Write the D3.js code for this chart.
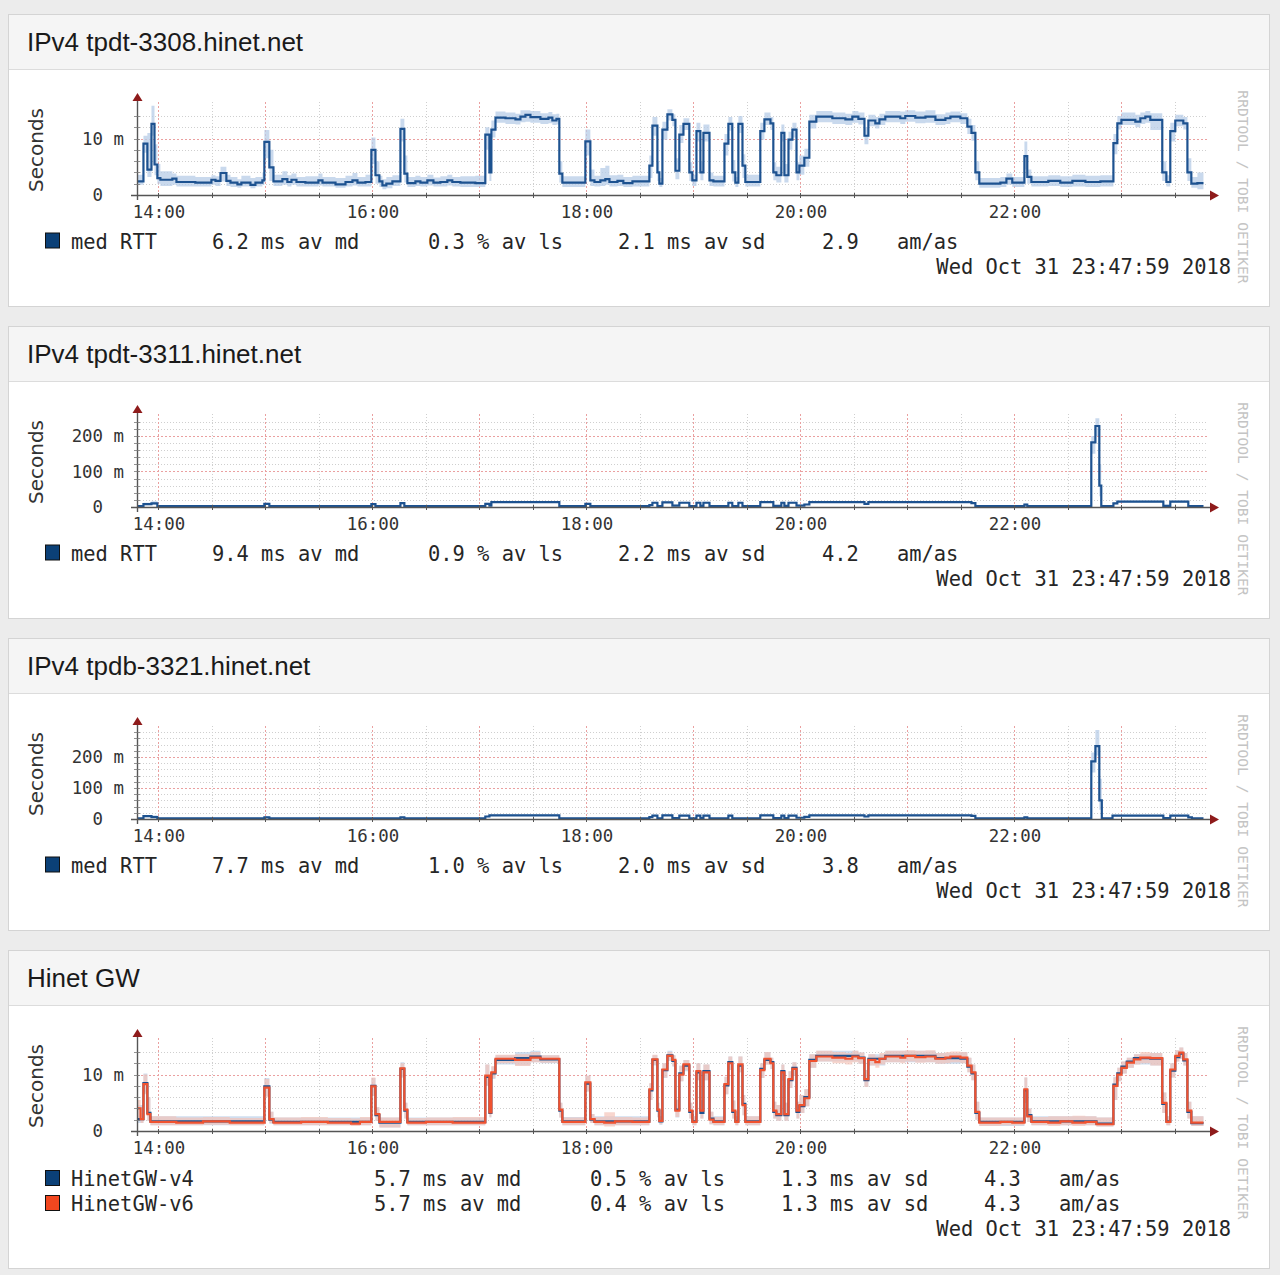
<!DOCTYPE html>
<html>
<head>
<meta charset="utf-8">
<script src="https://cdn.jsdelivr.net/npm/d3@7"></script>
<style>
  html, body { margin: 0; padding: 0; background: #ececec; }
  svg { display: block; }
</style>
</head>
<body>
<div id="chart"></div>
<script>
// each row: [minutes after 14:00, median ms, smoke low ms, smoke high ms]
const tpdt3308 = [
  [-12, 2.4, 1.8, 3.6], [-8.4, 9.1, 7.5, 10.5], [-6.2, 4.5, 3.2, 11.0], [-3.9, 12.6, 10.5, 15.8],
  [-2.2, 5.4, 3.5, 9.0], [-0.6, 3.0, 2.0, 5.5], [1.1, 2.7, 1.6, 4.2], [7.8, 2.9, 1.8, 3.8],
  [10.1, 2.3, 1.5, 3.4], [20.7, 2.2, 1.5, 3.2], [29.7, 2.7, 1.8, 3.5], [32.0, 2.5, 1.6, 3.3],
  [34.8, 3.9, 2.4, 5.0], [38.1, 2.5, 1.6, 3.6], [40.4, 2.2, 1.4, 3.2], [44.3, 1.9, 1.3, 2.8],
  [46.5, 2.2, 1.5, 3.4], [51.6, 1.8, 1.2, 3.0], [54.4, 2.2, 1.5, 3.2], [58.3, 2.6, 1.8, 4.0],
  [59.4, 9.4, 6.5, 11.5], [62.2, 4.9, 2.5, 8.0], [64.5, 2.4, 1.6, 3.6], [69.5, 2.8, 1.8, 4.2],
  [72.3, 2.3, 1.5, 3.5], [74.6, 2.7, 1.8, 3.8], [77.4, 2.3, 1.5, 3.2], [82.4, 2.2, 1.5, 3.3],
  [89.7, 2.6, 1.7, 3.8], [92.0, 2.2, 1.5, 3.2], [99.3, 1.9, 1.3, 3.0], [104.9, 2.3, 1.5, 3.4],
  [108.8, 2.6, 1.7, 3.9], [111.6, 2.2, 1.5, 3.2], [116.1, 2.3, 1.5, 3.6], [119.4, 8.0, 5.5, 10.2],
  [121.7, 3.5, 2.0, 6.0], [123.9, 2.4, 1.4, 3.4], [125.6, 1.7, 1.0, 2.8], [127.8, 2.0, 1.2, 3.2],
  [131.2, 2.4, 1.6, 3.5], [135.7, 11.7, 9.5, 13.5], [137.9, 3.8, 2.2, 7.0], [139.6, 2.1, 1.4, 3.2],
  [144.1, 2.4, 1.6, 3.4], [146.9, 2.2, 1.5, 3.2], [150.8, 2.6, 1.7, 3.6], [154.2, 2.2, 1.5, 3.1],
  [158.1, 2.3, 1.5, 3.3], [162.0, 2.6, 1.7, 3.6], [164.8, 2.3, 1.5, 3.2], [169.3, 2.2, 1.4, 3.3],
  [177.7, 2.1, 1.4, 3.4], [183.3, 10.7, 8.0, 12.0], [185.6, 4.0, 2.5, 6.5], [186.7, 11.6, 10.2, 13.2],
  [189.0, 13.7, 12.8, 14.8], [194.6, 13.6, 12.6, 14.6], [200.2, 13.4, 12.5, 14.4], [203.0, 13.9, 12.9, 15.0],
  [205.8, 14.2, 13.0, 15.0], [208.6, 13.8, 12.8, 14.9], [214.2, 13.5, 12.6, 14.5], [218.7, 13.7, 12.7, 14.7],
  [220.9, 13.2, 12.4, 14.3], [223.2, 13.5, 12.5, 14.4], [224.8, 3.8, 2.2, 6.0], [226.5, 2.2, 1.4, 3.3],
  [239.4, 9.5, 7.0, 11.6], [242.2, 2.6, 1.6, 4.5], [244.5, 2.3, 1.5, 3.4], [247.8, 2.6, 1.6, 4.8],
  [250.6, 2.8, 1.8, 5.2], [252.9, 2.3, 1.5, 3.5], [257.4, 2.5, 1.6, 3.6], [260.7, 2.1, 1.4, 3.2],
  [265.8, 2.4, 1.5, 3.4], [275.3, 5.2, 3.0, 7.0], [277.0, 12.3, 10.5, 13.8], [279.8, 4.0, 2.5, 6.0],
  [280.9, 2.0, 1.4, 3.0], [282.6, 11.6, 9.8, 13.0], [285.4, 14.3, 13.2, 15.2], [288.2, 13.3, 12.2, 14.3],
  [289.9, 4.3, 2.8, 6.5], [292.1, 10.7, 9.2, 12.4], [294.4, 12.6, 11.5, 13.6], [297.7, 4.0, 2.5, 5.8],
  [299.4, 2.6, 1.6, 3.6], [301.7, 11.3, 9.5, 12.8], [303.9, 4.0, 2.6, 6.0], [305.6, 11.0, 9.5, 12.5],
  [309.0, 2.6, 1.6, 4.0], [311.2, 2.4, 1.5, 3.4], [317.4, 9.1, 7.0, 10.8], [319.6, 12.6, 11.4, 13.8],
  [321.8, 4.0, 2.4, 6.2], [323.5, 2.2, 1.4, 3.2], [325.2, 12.6, 11.0, 14.0], [327.5, 5.2, 3.0, 7.2],
  [329.1, 2.3, 1.5, 3.6], [337.5, 11.3, 9.8, 12.8], [339.8, 13.4, 12.4, 14.6], [343.2, 12.7, 11.5, 13.8],
  [344.8, 4.0, 2.6, 5.8], [346.5, 3.5, 2.2, 5.0], [349.3, 11.0, 9.5, 12.5], [351.0, 3.5, 2.2, 5.5],
  [353.3, 9.8, 8.0, 11.2], [355.5, 11.6, 10.2, 12.8], [357.8, 4.0, 2.6, 5.8], [359.4, 5.2, 3.6, 7.0],
  [362.2, 6.6, 5.0, 8.2], [365.0, 13.0, 11.8, 14.2], [368.9, 13.9, 12.9, 14.9], [377.9, 13.6, 12.6, 14.6],
  [385.2, 13.4, 12.4, 14.4], [389.1, 13.9, 12.8, 14.9], [392.5, 13.5, 12.5, 14.6], [395.9, 10.5, 9.0, 12.0],
  [398.1, 13.2, 12.2, 14.2], [402.0, 12.7, 11.8, 13.8], [404.3, 13.4, 12.4, 14.4], [407.6, 13.9, 12.9, 14.9],
  [416.0, 13.6, 12.6, 14.8], [418.8, 14.0, 13.0, 15.0], [424.4, 13.7, 12.7, 14.8], [430.1, 13.9, 12.8, 15.0],
  [435.7, 13.3, 12.4, 14.3], [441.3, 13.6, 12.6, 14.6], [444.1, 13.9, 12.9, 14.8], [449.7, 13.6, 12.6, 14.5],
  [453.6, 12.1, 10.8, 13.5], [455.9, 11.0, 9.6, 12.4], [458.1, 4.0, 2.6, 6.0], [460.3, 2.0, 1.3, 3.0],
  [472.1, 2.2, 1.4, 3.2], [475.5, 2.9, 1.8, 3.8], [478.8, 2.2, 1.4, 3.2], [485.6, 6.9, 4.5, 9.5],
  [487.2, 3.2, 2.0, 4.5], [489.5, 2.3, 1.5, 3.3], [499.0, 2.5, 1.6, 3.5], [505.7, 2.2, 1.4, 3.3],
  [512.5, 2.5, 1.5, 3.6], [519.8, 2.3, 1.4, 3.4], [528.2, 2.4, 1.5, 3.5], [535.5, 9.2, 7.2, 10.8],
  [537.7, 12.7, 11.6, 14.0], [540.0, 13.3, 12.4, 14.6], [547.8, 13.0, 12.0, 14.2], [550.6, 13.6, 12.6, 14.6],
  [553.4, 13.9, 12.8, 14.9], [556.2, 13.3, 11.5, 14.5], [562.9, 4.0, 2.5, 6.0], [565.2, 2.3, 1.5, 3.5],
  [567.4, 11.3, 9.5, 12.8], [570.2, 13.2, 12.2, 14.2], [574.7, 12.7, 11.6, 13.8], [577.0, 4.0, 2.5, 6.5],
  [579.2, 2.0, 1.3, 3.2], [582.6, 2.1, 1.0, 4.0], [586, 2.1, 1.0, 4.0]
];

const tpdt3311 = [
  [-12, 2.3, 1.5, 4], [-8.4, 8, 5, 12], [-3.9, 10, 6, 16], [-0.6, 2.5, 1.5, 5],
  [59.4, 9, 6, 12], [62.2, 2.4, 1.5, 4], [119.4, 8, 5, 11], [121.7, 2.3, 1.5, 4],
  [135.7, 11, 8, 14], [137.9, 2.3, 1.5, 4], [183.3, 9, 6, 12], [185.6, 4, 2, 7],
  [186.7, 14, 12, 17], [224.8, 2.5, 1.5, 5], [239.4, 9, 6, 12], [242.2, 2.4, 1.5, 4],
  [275.3, 5, 3, 8], [277.0, 12, 10, 15], [279.8, 2.4, 1.5, 4], [282.6, 13, 11, 16],
  [288.2, 4, 2, 7], [292.1, 12, 10, 15], [297.7, 2.5, 1.5, 4], [301.7, 12, 10, 15],
  [303.9, 3, 2, 5], [305.6, 12, 10, 15], [309.0, 2.4, 1.5, 4], [319.6, 12, 10, 15],
  [321.8, 2.4, 1.5, 4], [325.2, 12, 10, 15], [327.5, 2.4, 1.5, 4], [337.5, 14, 12, 16],
  [344.8, 3, 2, 5], [349.3, 12, 10, 15], [351.0, 3, 2, 5], [353.3, 12, 10, 15],
  [357.8, 4, 2.5, 7], [362.2, 7, 5, 10], [365.0, 14, 12, 16], [395.9, 9, 7, 12],
  [398.1, 14, 12, 16], [455.9, 11, 9, 13], [458.1, 2.3, 1.5, 4], [485.6, 7, 4, 10],
  [487.2, 2.3, 1.5, 4], [523.1, 182, 150, 200], [525.4, 228, 200, 250], [527.6, 60, 30, 120],
  [528.7, 2.3, 1.5, 5], [535.5, 10, 8, 13], [537.7, 15, 13, 18], [563.5, 3, 2, 6],
  [567.4, 15, 13, 18], [577.5, 2.5, 1.5, 5], [586, 2.5, 1.5, 5]
];

const tpdb3321 = [
  [-12, 2.2, 1.4, 4], [-8.4, 9, 6, 13], [-3.9, 6, 4, 12], [-0.6, 2.2, 1.4, 4],
  [59.4, 5, 3, 9], [62.2, 2.2, 1.4, 4], [135.7, 5, 3, 8], [137.9, 2.2, 1.4, 4],
  [183.3, 8, 5, 11], [185.6, 12, 10, 15], [224.8, 2.3, 1.5, 4], [275.3, 6, 3, 9],
  [277.0, 11, 9, 14], [279.8, 2.3, 1.5, 4], [282.6, 12, 10, 15], [288.2, 3, 2, 5],
  [292.1, 11, 9, 14], [297.7, 2.3, 1.5, 4], [301.7, 11, 9, 14], [303.9, 3, 2, 5],
  [305.6, 11, 9, 14], [309.0, 2.3, 1.5, 4], [319.6, 11, 9, 14], [321.8, 2.3, 1.5, 4],
  [337.5, 12, 10, 15], [344.8, 3, 2, 5], [349.3, 11, 9, 14], [351.0, 3, 2, 5],
  [353.3, 11, 9, 14], [357.8, 4, 2.5, 7], [362.2, 7, 5, 10], [365.0, 12, 10, 15],
  [395.9, 8, 6, 11], [398.1, 12, 10, 15], [455.9, 10, 8, 13], [458.1, 2.2, 1.4, 4],
  [485.6, 5, 3, 8], [487.2, 2.2, 1.4, 4], [523.1, 186, 150, 215], [525.4, 235, 205, 287],
  [527.6, 60, 30, 130], [529.0, 2.2, 1.4, 5], [535.0, 11, 9, 14], [563.5, 3, 2, 6],
  [567.4, 11, 9, 14], [577.5, 5, 3, 8], [579.5, 2.2, 1.4, 4], [586, 2.2, 1.4, 4]
];

const hinetV4 = [
  [-12, 2.1, 1.4, 4.6], [-8.4, 8.5, 6.8, 10.2], [-6.2, 3.2, 1.8, 6.0], [-4.5, 1.7, 1.0, 2.6],
  [59.4, 7.9, 6.2, 9.4], [62.2, 2.0, 1.3, 3.4], [64.5, 1.6, 1.0, 2.4], [119.4, 8.0, 6.2, 9.4],
  [121.7, 2.8, 1.8, 4.2], [123.9, 1.5, 0.6, 2.4], [135.7, 11.0, 9.5, 12.2], [137.9, 3.6, 2.2, 5.0],
  [139.6, 1.6, 1.0, 2.4], [183.3, 9.6, 8.0, 11.8], [185.6, 3.2, 2.4, 5.0], [186.7, 10.2, 9.2, 11.4],
  [189.0, 12.6, 11.8, 13.4], [200, 12.9, 11.6, 14.0], [208.6, 13.2, 12.2, 14.2], [214.2, 12.7, 12.0, 13.4],
  [224.8, 3.6, 2.4, 5.0], [226.5, 1.7, 1.0, 2.5], [239.4, 8.4, 7.0, 9.8], [242.2, 2.0, 1.4, 3.0],
  [244.5, 1.7, 1.0, 2.6], [275.3, 7.2, 5.5, 8.4], [277.0, 12.6, 11.6, 13.4], [279.8, 3.6, 2.4, 5.0],
  [280.9, 1.7, 1.1, 2.6], [282.6, 10.8, 9.4, 12.0], [285.4, 13.4, 12.4, 14.2], [288.2, 12.4, 11.4, 13.4],
  [289.9, 3.8, 2.4, 5.6], [292.1, 10.2, 8.8, 11.6], [294.4, 11.6, 10.6, 12.6], [297.7, 3.4, 2.2, 5.0],
  [299.4, 1.7, 1.0, 2.6], [301.7, 10.4, 9.0, 12.0], [303.9, 3.2, 2.2, 5.4], [305.6, 10.6, 9.0, 11.8],
  [309.0, 2.2, 1.2, 3.4], [311.2, 1.7, 1.0, 2.6], [317.4, 8.1, 6.5, 9.6], [319.6, 12.2, 10.8, 13.2],
  [321.8, 3.4, 2.2, 5.4], [323.5, 1.7, 1.0, 2.6], [325.2, 11.6, 10.4, 13.2], [327.5, 4.8, 2.8, 6.4],
  [329.1, 1.7, 1.0, 2.6], [337.5, 11.0, 9.4, 12.0], [339.8, 12.6, 11.8, 14.0], [343.2, 12.2, 11.0, 13.0],
  [344.8, 3.4, 2.2, 5.2], [346.5, 2.8, 1.8, 4.6], [349.3, 10.6, 9.0, 11.8], [351.0, 2.8, 1.8, 5.0],
  [353.3, 9.0, 7.6, 10.6], [355.5, 11.2, 9.8, 12.2], [357.8, 3.4, 2.2, 5.2], [359.4, 4.4, 3.2, 6.4],
  [362.2, 6.0, 4.4, 7.4], [365.0, 12.6, 11.2, 13.6], [368.9, 13.3, 12.3, 14.2], [392.5, 13.0, 11.9, 13.9],
  [395.9, 9.0, 7.8, 10.8], [398.1, 12.8, 11.6, 13.6], [407.6, 13.3, 12.2, 14.2], [435.7, 12.9, 11.9, 13.8],
  [449.7, 12.8, 12.0, 14.0], [453.6, 11.4, 10.4, 13.0], [455.9, 10.2, 9.0, 11.8], [458.1, 3.2, 2.0, 5.2],
  [460.3, 1.6, 0.9, 2.4], [485.6, 7.2, 5.0, 9.5], [487.2, 2.8, 1.6, 4.0], [489.5, 1.7, 1.0, 2.6],
  [526.0, 1.3, 0.8, 2.4], [535.5, 8.2, 5.5, 9.6], [537.7, 10.2, 8.8, 11.2], [540.0, 11.4, 10.2, 12.3],
  [543.0, 12.3, 11.2, 13.0], [547.0, 12.9, 11.8, 13.6], [556.2, 12.8, 11.6, 13.8], [562.9, 4.8, 3.2, 6.8],
  [565.2, 1.7, 1.0, 2.6], [567.4, 10.7, 9.5, 12.0], [570.2, 13.1, 12.3, 14.3], [572.5, 13.7, 12.8, 14.8],
  [574.7, 12.5, 11.6, 13.8], [577.0, 3.4, 2.2, 5.2], [579.2, 1.4, 0.9, 2.6], [586, 1.4, 0.9, 3.4]
];

const hinetV6 = [
  [-12, 4.0, 2.0, 5.5], [-10, 2.1, 1.4, 3.2], [-8.4, 8.3, 6.5, 10.0], [-6.2, 3.0, 1.8, 6.0],
  [-4.5, 1.6, 1.0, 2.6], [10, 1.5, 1.0, 2.4], [25, 1.7, 1.1, 2.5], [40, 1.5, 1.0, 2.3],
  [59.4, 7.7, 6.0, 9.2], [62.2, 2.1, 1.4, 3.4], [64.5, 1.5, 1.0, 2.4], [80, 1.6, 1.0, 2.5],
  [95, 1.5, 1.0, 2.3], [108, 1.3, 0.9, 2.2], [113, 1.6, 1.0, 2.5], [119.4, 7.9, 6.2, 9.5],
  [121.7, 3.0, 1.8, 4.2], [123.9, 1.6, 0.6, 2.4], [135.7, 11.1, 9.5, 12.0], [137.9, 3.8, 2.2, 5.0],
  [139.6, 1.5, 1.0, 2.3], [150, 1.6, 1.0, 2.4], [165, 1.5, 1.0, 2.5], [183.3, 9.8, 8.0, 11.8],
  [185.6, 3.3, 2.5, 5.0], [186.7, 10.4, 9.4, 11.5], [189.0, 12.8, 12.0, 13.5], [200, 12.6, 11.5, 13.6],
  [208.6, 13.0, 12.2, 14.0], [214.2, 12.8, 12.1, 13.4], [224.8, 3.8, 2.4, 5.0], [226.5, 1.6, 1.0, 2.4],
  [239.4, 8.6, 7.0, 9.8], [242.2, 2.1, 1.4, 3.0], [244.5, 1.6, 1.0, 2.5], [250, 1.5, 0.8, 3.3],
  [256, 1.7, 1.0, 2.5], [265.8, 1.6, 1.0, 2.4], [275.3, 7.4, 5.5, 8.5], [277.0, 12.7, 11.8, 13.5],
  [279.8, 3.8, 2.5, 5.0], [280.9, 1.8, 1.2, 2.6], [282.6, 10.9, 9.5, 12.0], [285.4, 13.3, 12.5, 14.0],
  [288.2, 12.6, 11.5, 13.4], [289.9, 3.6, 2.5, 5.5], [292.1, 10.0, 8.8, 11.5], [294.4, 11.8, 10.8, 12.6],
  [297.7, 3.6, 2.2, 5.0], [299.4, 1.6, 1.0, 2.6], [301.7, 10.6, 9.0, 12.0], [303.9, 3.6, 2.2, 5.5],
  [305.6, 10.4, 9.0, 11.8], [309.0, 2.0, 1.2, 3.4], [311.2, 1.6, 1.0, 2.5], [317.4, 8.3, 6.5, 9.6],
  [319.6, 12.0, 10.8, 13.2], [321.8, 3.6, 2.2, 5.4], [323.5, 1.6, 1.0, 2.6], [325.2, 11.8, 10.4, 13.2],
  [327.5, 4.6, 2.8, 6.4], [329.1, 1.6, 1.0, 2.6], [337.5, 10.8, 9.4, 12.0], [339.8, 12.8, 11.8, 14.0],
  [343.2, 12.0, 11.0, 13.0], [344.8, 3.6, 2.2, 5.2], [346.5, 3.0, 1.8, 4.6], [349.3, 10.4, 9.0, 11.8],
  [351.0, 3.0, 1.8, 5.0], [353.3, 9.2, 7.6, 10.6], [355.5, 11.0, 9.8, 12.2], [357.8, 3.6, 2.2, 5.2],
  [359.4, 4.6, 3.2, 6.4], [362.2, 5.8, 4.4, 7.4], [365.0, 12.4, 11.2, 13.6], [368.9, 13.2, 12.3, 14.2],
  [377.9, 13.0, 12.0, 14.0], [385.2, 12.8, 11.8, 13.8], [389.1, 13.2, 12.2, 14.2], [392.5, 12.9, 11.9, 13.9],
  [395.9, 9.2, 7.8, 10.8], [398.1, 12.6, 11.6, 13.6], [402.0, 12.2, 11.2, 13.2], [404.3, 12.8, 11.8, 13.8],
  [407.6, 13.2, 12.2, 14.2], [416.0, 13.0, 12.0, 14.2], [418.8, 13.3, 12.3, 14.3], [424.4, 13.1, 12.1, 14.2],
  [430.1, 13.2, 12.2, 14.3], [435.7, 12.8, 11.9, 13.8], [441.3, 13.0, 12.0, 14.0], [444.1, 13.2, 12.2, 14.1],
  [449.7, 13.0, 12.0, 14.0], [453.6, 11.6, 10.4, 13.0], [455.9, 10.4, 9.0, 11.8], [458.1, 3.4, 2.0, 5.2],
  [460.3, 1.5, 0.9, 2.4], [472.1, 1.6, 1.0, 2.4], [478.8, 1.5, 1.0, 2.4], [485.6, 7.4, 5.0, 9.5],
  [487.2, 2.6, 1.6, 4.0], [489.5, 1.6, 1.0, 2.5], [499.0, 1.5, 0.9, 2.6], [505.7, 1.7, 1.0, 2.6],
  [512.5, 1.5, 0.9, 2.7], [519.8, 1.6, 1.0, 2.6], [526.0, 1.2, 0.8, 2.4], [535.5, 8.0, 5.5, 9.5],
  [537.7, 10.0, 8.8, 11.2], [540.0, 11.2, 10.2, 12.3], [543.0, 12.1, 11.2, 13.0], [547.0, 12.7, 11.8, 13.6],
  [550.6, 13.0, 12.0, 14.0], [556.2, 12.9, 11.6, 13.8], [562.9, 5.0, 3.2, 6.8], [565.2, 1.6, 1.0, 2.6],
  [567.4, 10.9, 9.5, 12.0], [570.2, 13.3, 12.3, 14.3], [572.5, 13.9, 12.8, 14.8], [574.7, 12.7, 11.6, 13.8],
  [577.0, 3.6, 2.2, 5.2], [579.2, 1.5, 0.9, 2.6], [586, 1.5, 0.9, 2.6]
];

const titles = ['IPv4 tpdt-3308.hinet.net', 'IPv4 tpdt-3311.hinet.net', 'IPv4 tpdb-3321.hinet.net', 'Hinet GW'];
const panelSeries = [[tpdt3308], [tpdt3311], [tpdb3321], [hinetV4, hinetV6]];
const yTops = [16.3, 259, 297, 16.3];
const yMinor = [2, 20, 20, 2];
const yMajor = [10, 100, 100, 10];
const yLabels = [[0, 10], [0, 100, 200], [0, 100, 200], [0, 10]];
const legendRows = [
  [['med RTT', '6.2 ms av md', '0.3 % av ls', '2.1 ms av sd', '2.9', 'am/as']],
  [['med RTT', '9.4 ms av md', '0.9 % av ls', '2.2 ms av sd', '4.2', 'am/as']],
  [['med RTT', '7.7 ms av md', '1.0 % av ls', '2.0 ms av sd', '3.8', 'am/as']],
  [['HinetGW-v4', '5.7 ms av md', '0.5 % av ls', '1.3 ms av sd', '4.3', 'am/as'],
   ['HinetGW-v6', '5.7 ms av md', '0.4 % av ls', '1.3 ms av sd', '4.3', 'am/as']]
];
const stamp = 'Wed Oct 31 23:47:59 2018';
const timeStart = new Date(2018, 9, 31, 13, 47, 59);
const timeEnd = new Date(2018, 9, 31, 23, 47, 59);

// styling
const lineColors = ['#1d5290', '#f0522f'];
const boxColors = ['#0b4077', '#f2471f'];
const smokeColors = ['#b7cce7', '#f5c0b4'];
const mono = '"DejaVu Sans Mono", monospace';
const cardTops = [14, 326, 638, 950];
const cardHeights = [292, 292, 292, 318];
const colSingle = [71, 212, 428, 618, 822, 897];
const colMulti = [71, 374, 590, 781, 984, 1059];

const base = new Date(2018, 9, 31, 14, 0, 0);
const toDate = t => new Date(+base + t * 60000);

const svg = d3.select('#chart').append('svg').attr('width', 1280).attr('height', 1275);
const x = d3.scaleTime().domain([timeStart, timeEnd]).range([137, 1207]);
const halfHours = x.ticks(d3.timeMinute.every(30));

titles.forEach((title, i) => {
  const g = svg.append('g').attr('transform', `translate(0,${cardTops[i]})`);
  const zeroY = 181, topY = 89;
  const y = d3.scaleLinear().domain([0, yTops[i]]).range([zeroY, topY]);

  // card + header
  g.append('rect').attr('x', 8.5).attr('y', 0.5).attr('width', 1261).attr('height', cardHeights[i])
    .attr('fill', '#fff').attr('stroke', '#d4d4d4');
  g.append('rect').attr('x', 9).attr('y', 1).attr('width', 1260).attr('height', 54).attr('fill', '#f5f5f5');
  g.append('line').attr('x1', 9).attr('x2', 1269).attr('y1', 55.5).attr('y2', 55.5).attr('stroke', '#dcdcdc');
  g.append('text').attr('x', 27).attr('y', 37).text(title)
    .attr('font-family', '"Liberation Sans", Arial, sans-serif').attr('font-size', 26).attr('fill', '#1a1a1a');

  // grid
  const grid = g.append('g');
  const nSteps = Math.floor(yTops[i] / yMinor[i]);
  const hVals = d3.range(1, nSteps + 1).map(k => k * yMinor[i]).filter(v => y(v) > topY + 2);
  const isMajor = d => Math.round(d / yMinor[i]) % Math.round(yMajor[i] / yMinor[i]) === 0;
  grid.selectAll('line.h').data(hVals).join('line')
    .attr('x1', 137).attr('x2', 1207).attr('y1', d => Math.round(y(d)) + 0.5).attr('y2', d => Math.round(y(d)) + 0.5)
    .attr('stroke', d => isMajor(d) ? '#eaa0a0' : '#cfcfcf')
    .attr('stroke-dasharray', d => isMajor(d) ? '2,2' : '1,2')
    .attr('stroke-width', 1);
  grid.selectAll('line.v').data(halfHours).join('line')
    .attr('x1', d => Math.round(x(d)) + 0.5).attr('x2', d => Math.round(x(d)) + 0.5)
    .attr('y1', topY - 1).attr('y2', zeroY)
    .attr('stroke', d => d.getMinutes() === 0 ? '#eaa0a0' : '#cfcfcf')
    .attr('stroke-dasharray', d => d.getMinutes() === 0 ? '2,2' : '1,2');

  // smoke + median
  const series = panelSeries[i].map(s => s.map(r => ({date: toDate(r[0]), med: r[1], lo: r[2], hi: r[3]})));
  const area = d3.area().x(d => x(d.date)).y0(d => y(d.lo)).y1(d => y(Math.min(d.hi, yTops[i]))).curve(d3.curveStepAfter);
  const line = d3.line().x(d => x(d.date)).y(d => y(d.med)).curve(d3.curveStepAfter);
  const multi = series.length > 1;
  series.forEach((s, k) => {
    g.append('path').datum(s).attr('d', area)
      .attr('fill', smokeColors[multi ? k : 0]).attr('opacity', multi ? 0.65 : 0.75);
  });
  series.forEach((s, k) => {
    g.append('path').datum(s).attr('d', line).attr('fill', 'none')
      .attr('stroke', lineColors[multi ? k : 0]).attr('stroke-width', 2.2).attr('stroke-linejoin', 'miter');
  });

  // axes lines and arrows
  const ax = g.append('g');
  ax.append('line').attr('x1', 131).attr('x2', 1211).attr('y1', zeroY + 0.5).attr('y2', zeroY + 0.5)
    .attr('stroke', '#555').attr('stroke-width', 1.6);
  ax.append('line').attr('x1', 137.5).attr('x2', 137.5).attr('y1', zeroY + 5).attr('y2', topY - 3)
    .attr('stroke', '#555').attr('stroke-width', 1.4);
  ax.selectAll('line.xt').data(halfHours).join('line')
    .attr('x1', d => Math.round(x(d)) + 0.5).attr('x2', d => Math.round(x(d)) + 0.5)
    .attr('y1', zeroY - 2).attr('y2', zeroY + 3).attr('stroke', '#555');
  ax.selectAll('line.yt').data(hVals).join('line')
    .attr('x1', 134).attr('x2', 140).attr('y1', d => Math.round(y(d)) + 0.5).attr('y2', d => Math.round(y(d)) + 0.5)
    .attr('stroke', '#777').attr('stroke-width', 0.8);
  ax.append('path').attr('d', `M1210,${zeroY - 4.5}L1219,${zeroY + 0.5}L1210,${zeroY + 5.5}Z`).attr('fill', '#8e1b1b');
  ax.append('path').attr('d', `M132.5,${topY - 2}L137.5,${topY - 10}L142.5,${topY - 2}Z`).attr('fill', '#8e1b1b');

  const xa = g.append('g').attr('transform', `translate(0,${zeroY})`)
    .call(d3.axisBottom(x).tickValues(x.ticks(d3.timeHour.every(2))).tickFormat(d3.timeFormat('%H:%M')).tickSize(0).tickPadding(11));
  const ya = g.append('g').attr('transform', 'translate(137,0)')
    .call(d3.axisLeft(y).tickValues(yLabels[i]).tickFormat(v => v === 0 ? '0\u00a0\u00a0' : v + ' m').tickSize(0).tickPadding(13));
  [xa, ya].forEach(a => {
    a.select('.domain').remove();
    a.selectAll('text').attr('font-family', mono).attr('font-size', 17.4).attr('fill', '#333');
  });

  g.append('text').attr('transform', 'translate(36,136) rotate(-90)').attr('text-anchor', 'middle')
    .attr('dy', '0.35em').text('Seconds')
    .attr('font-family', '"DejaVu Sans", sans-serif').attr('font-size', 20).attr('fill', '#333');
  g.append('text').attr('transform', 'translate(1243,173) rotate(90)').attr('text-anchor', 'middle')
    .attr('dy', '0.35em').text('RRDTOOL / TOBI OETIKER')
    .attr('font-family', mono).attr('font-size', 14.6).attr('fill', '#c4c4c4');

  // legend
  const rows = legendRows[i];
  const cols = multi ? colMulti : colSingle;
  rows.forEach((row, r) => {
    const ly = 234.5 + (multi ? 1.5 : 0) + r * 25;
    g.append('rect').attr('x', 45.5).attr('y', ly - 15.5).attr('width', 14).attr('height', 15)
      .attr('fill', boxColors[multi ? r : 0]).attr('stroke', '#111').attr('stroke-width', 1);
    g.selectAll(null).data(row).join('text')
      .attr('x', (d, c) => cols[c]).attr('y', ly).text(d => d)
      .attr('font-family', mono).attr('font-size', 20.4).attr('fill', '#262626');
  });
  g.append('text').attr('x', 1231).attr('y', 260 + (multi ? 26 : 0)).attr('text-anchor', 'end').text(stamp)
    .attr('font-family', mono).attr('font-size', 20.4).attr('fill', '#262626');
});
</script>
</body>
</html>
